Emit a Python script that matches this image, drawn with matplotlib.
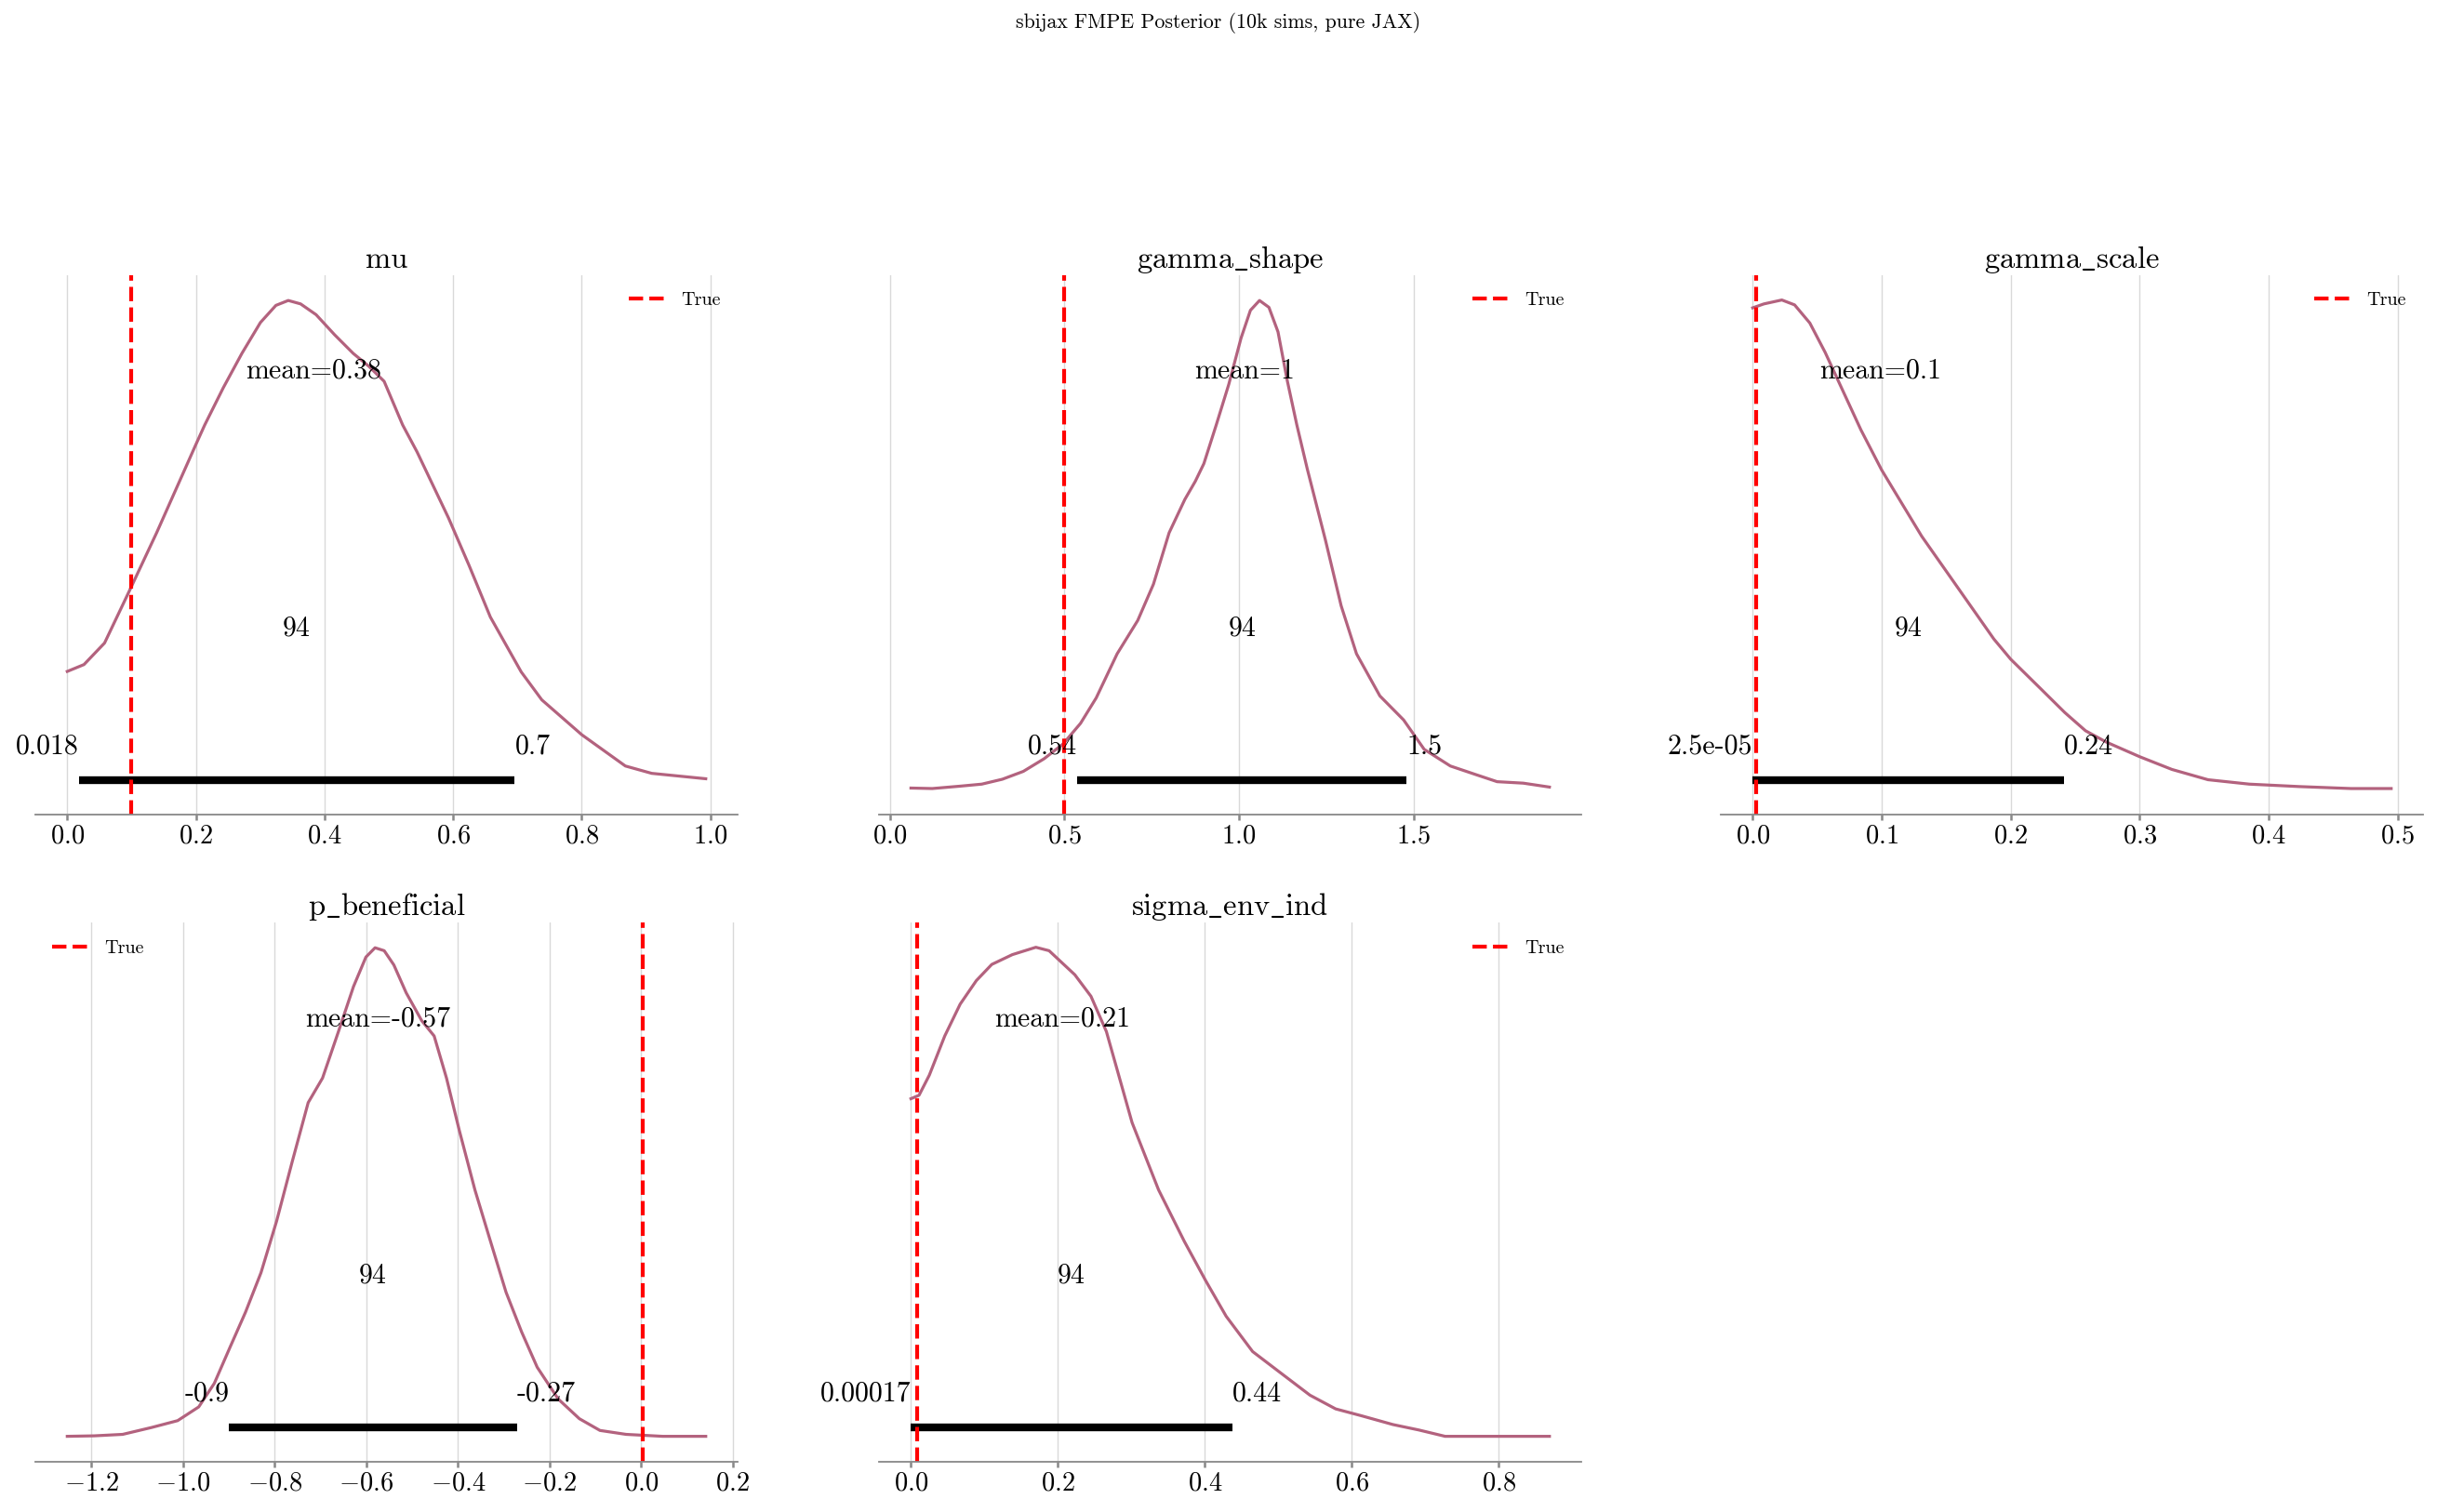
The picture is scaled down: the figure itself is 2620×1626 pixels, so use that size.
import matplotlib
matplotlib.use("Agg")
import matplotlib.pyplot as plt
import numpy as np

plt.rcParams['font.family'] = ['cmr10', 'DejaVu Serif']
plt.rcParams['mathtext.fontset'] = 'cm'
plt.rcParams['axes.formatter.use_mathtext'] = True
plt.rcParams['axes.unicode_minus'] = True

suptitle = "sbijax FMPE Posterior (10k sims, pure JAX)"
param_titles = [r"mu", r"gamma$\_$shape", r"gamma$\_$scale", r"p$\_$beneficial", r"sigma$\_$env$\_$ind"]

# KDE curves (x, relative density)
mu_x = [0.0, 0.026, 0.058, 0.099, 0.139, 0.2, 0.2138, 0.2427, 0.2716, 0.3004, 0.3245, 0.3437, 0.3629,
        0.387, 0.4158, 0.4447, 0.4688, 0.4928, 0.5216, 0.544,
        0.593, 0.625, 0.658, 0.706, 0.738, 0.80, 0.868, 0.909, 0.993]
mu_y = [0.242, 0.256, 0.30, 0.413, 0.525, 0.705, 0.745, 0.821, 0.891, 0.954, 0.989, 0.999, 0.992,
        0.97, 0.929, 0.891, 0.865, 0.834, 0.745, 0.69,
        0.555, 0.458, 0.353, 0.241, 0.184, 0.113, 0.049, 0.034, 0.023]

gshape_x = [0.06, 0.121, 0.203, 0.263, 0.322, 0.382, 0.442, 0.496, 0.546, 0.591, 0.651, 0.71, 0.755, 0.8,
            0.845, 0.875, 0.8995, 0.935, 0.971, 1.006, 1.033, 1.059, 1.086, 1.112, 1.139, 1.166, 1.196,
            1.248, 1.293, 1.337, 1.404, 1.472, 1.531, 1.606, 1.681, 1.74, 1.815, 1.89]
gshape_y = [0.004, 0.003, 0.008, 0.012, 0.022, 0.038, 0.064, 0.094, 0.136, 0.188, 0.278, 0.346, 0.42, 0.525,
            0.593, 0.63, 0.666, 0.745, 0.828, 0.922, 0.979, 0.999, 0.985, 0.935, 0.834, 0.745, 0.655,
            0.51, 0.376, 0.278, 0.192, 0.143, 0.083, 0.049, 0.031, 0.017, 0.014, 0.006]

gscale_x = [0.0, 0.0087, 0.0226, 0.0325, 0.0443, 0.0562, 0.0681, 0.0839, 0.1, 0.1156, 0.131, 0.147, 0.167,
            0.187, 0.2, 0.222, 0.242, 0.258, 0.274, 0.3, 0.325, 0.353, 0.385, 0.424, 0.464, 0.495]
gscale_y = [0.984, 0.992, 1.0, 0.99, 0.953, 0.893, 0.825, 0.735, 0.653, 0.585, 0.518, 0.458, 0.383,
            0.308, 0.267, 0.21, 0.158, 0.121, 0.098, 0.068, 0.042, 0.021, 0.012, 0.007, 0.003, 0.003]

pben_x = [-1.253, -1.194, -1.132, -1.069, -1.012, -0.966, -0.932, -0.898, -0.864, -0.83, -0.796, -0.762,
          -0.727, -0.6957, -0.662, -0.628, -0.601, -0.581, -0.561, -0.540, -0.513, -0.479, -0.452, -0.425,
          -0.397, -0.363, -0.329, -0.295, -0.261, -0.227, -0.181, -0.135, -0.09, -0.033, 0.047, 0.141]
pben_y = [0.002, 0.003, 0.006, 0.02, 0.034, 0.062, 0.11, 0.183, 0.255, 0.336, 0.441, 0.562,
          0.683, 0.733, 0.825, 0.92, 0.98, 0.999, 0.993, 0.964, 0.907, 0.85, 0.819, 0.733,
          0.626, 0.505, 0.4, 0.296, 0.215, 0.143, 0.078, 0.038, 0.014, 0.006, 0.002, 0.002]

sig_x = [0.0, 0.011, 0.025, 0.046, 0.067, 0.089, 0.11, 0.138, 0.17, 0.188, 0.223, 0.245, 0.266, 0.301,
         0.337, 0.372, 0.401, 0.429, 0.465, 0.5, 0.543, 0.578, 0.613, 0.656, 0.691, 0.727, 0.798, 0.869]
sig_y = [0.691, 0.698, 0.739, 0.819, 0.884, 0.932, 0.965, 0.985, 1.0, 0.993, 0.944, 0.9, 0.828, 0.642,
         0.505, 0.4, 0.32, 0.247, 0.175, 0.135, 0.086, 0.058, 0.044, 0.026, 0.015, 0.002, 0.002, 0.002]

curves_x = [mu_x, gshape_x, gscale_x, pben_x, sig_x]
curves_y = [mu_y, gshape_y, gscale_y, pben_y, sig_y]

means = [0.383, 1.016, 0.099, -0.574, 0.206]
mean_labels = ["0.38", "1", "0.1", "-0.57", "0.21"]
hdi_low = [0.018, 0.537, 0.000025, -0.90, 0.00017]
hdi_high = [0.696, 1.481, 0.2415, -0.271, 0.437]
hdi_low_labels = ["0.018", "0.54", "2.5e-05", "-0.9", "0.00017"]
hdi_high_labels = ["0.7", "1.5", "0.24", "-0.27", "0.44"]
true_values = [0.1, 0.5, 0.003, 0.004, 0.0085]
legend_locs = ["upper right", "upper right", "upper right", "upper left", "upper right"]
hdi_text = "94"

curve_color = "#b3627e"
label_size = 21.5
title_size = 23.5
tick_size = 20.5

fig = plt.figure(figsize=(26.2, 16.26), dpi=100)
col_left = [0.0145, 0.3607, 0.7061]
col_w = 0.2882
row_bottom = [0.4613, 0.0332]
row_h = 0.3565

positions = [(0, 0), (0, 1), (0, 2), (1, 0), (1, 1)]
for i, (r, c) in enumerate(positions):
    ax = fig.add_axes([col_left[c], row_bottom[r], col_w, row_h])
    ax.plot(curves_x[i], curves_y[i], color=curve_color, lw=2.3, solid_joinstyle="round")
    ax.set_ylim(-0.05, 1.05)
    ph = 1.05
    ax.plot([hdi_low[i], hdi_high[i]], [ph * 0.02, ph * 0.02], color="k", lw=6, solid_capstyle="butt")
    ax.text(hdi_low[i], ph * 0.07, hdi_low_labels[i], size=label_size, ha="right")
    ax.text(hdi_high[i], ph * 0.07, hdi_high_labels[i], size=label_size, ha="left")
    ax.text((hdi_low[i] + hdi_high[i]) / 2, ph * 0.3, hdi_text, size=label_size, ha="center")
    ax.text(means[i], ph * 0.8, "mean=" + mean_labels[i], size=label_size, ha="center")
    ax.axvline(true_values[i], color="red", ls="--", lw=3.0, label="True")
    ax.legend(loc=legend_locs[i], frameon=False, fontsize=14.5)
    ax.set_title(param_titles[i], fontsize=title_size, pad=6)
    ax.set_yticks([])
    for s in ["left", "right", "top"]:
        ax.spines[s].set_visible(False)
    ax.spines["bottom"].set_color("#888888")
    ax.spines["bottom"].set_linewidth(1.3)
    ax.tick_params(axis="x", labelsize=tick_size, color="#888888", length=4, width=1.8)
    ax.grid(axis="x", color="#d9d9d9", lw=1.0)
    ax.set_axisbelow(True)

fig.suptitle(suptitle, fontsize=15.8, y=0.985, va="center")
fig.savefig("out.png", dpi=100)
